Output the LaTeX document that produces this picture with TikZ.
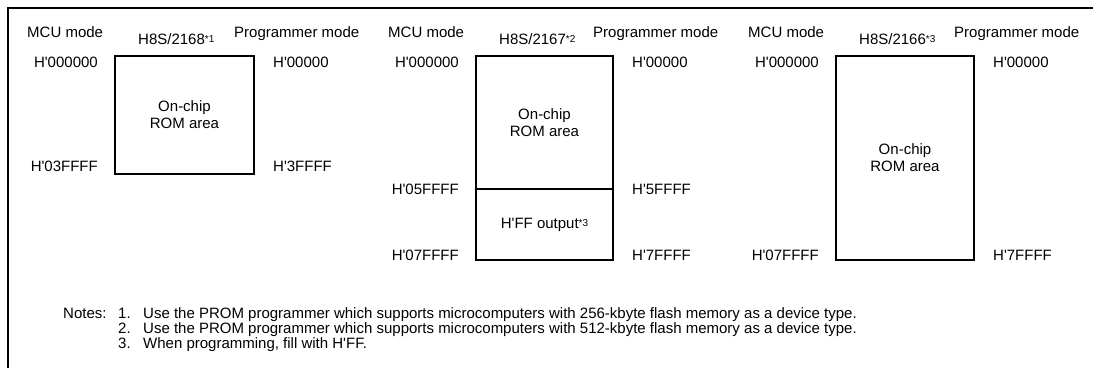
\documentclass[tikz,border=0pt]{standalone}
\usepackage{fontspec}
\setmainfont{Liberation Sans}[Ligatures=TeXOff]
\usetikzlibrary{positioning}

\newcommand{\notemark}[1]{\raisebox{2pt}{\fontsize{10}{10}\selectfont *#1}}

\begin{document}
\begin{tikzpicture}[x=1pt,y=-1pt,
  lbl/.style={font=\fontsize{15}{17}\selectfont,inner sep=0pt,text height=11pt,text depth=0pt},
  membox/.style={draw,line width=2pt,inner sep=0pt,outer sep=0pt,align=center,
    font=\fontsize{15}{17}\selectfont}]
  \useasboundingbox (0,0) rectangle (1093,368);

  % frame
  \draw[line width=2pt] (1093,8) -- (8,8) -- (8,368);

  % H8S/2168
  \node[membox,minimum width=139pt,minimum height=118pt] (romA) at (184.5,115) {On-chip\\ROM area};
  \node[lbl,anchor=west] (mcuA) at (27,32) {MCU mode};
  \node[lbl,anchor=west] (chipA) at (138,39) {H8S/2168\notemark{1}};
  \node[lbl,anchor=west] (progA) at (234,32) {Programmer mode};
  \node[lbl,anchor=east] (mtopA) at ([xshift=-17pt,yshift=-6pt]romA.north west) {H'000000};
  \node[lbl,anchor=east] (mendA) at ([xshift=-17pt,yshift=8pt]romA.south west) {H'03FFFF};
  \node[lbl,anchor=west] (ptopA) at ([xshift=19pt,yshift=-6pt]romA.north east) {H'00000};
  \node[lbl,anchor=west] (pendA) at ([xshift=19pt,yshift=8pt]romA.south east) {H'3FFFF};

  % H8S/2167
  \node[membox,minimum width=137pt,minimum height=133pt] (romB) at (544.5,122.5) {On-chip\\ROM area};
  \node[membox,minimum width=137pt,minimum height=71pt,below=0pt of romB] (ffB) {H'FF output\notemark{3}};
  \node[lbl,anchor=west] (mcuB) at (388,32) {MCU mode};
  \node[lbl,anchor=west] (chipB) at (499,39) {H8S/2167\notemark{2}};
  \node[lbl,anchor=west] (progB) at (593,32) {Programmer mode};
  \node[lbl,anchor=east] (mtopB) at ([xshift=-17pt,yshift=-6pt]romB.north west) {H'000000};
  \node[lbl,anchor=east] (mmidB) at ([xshift=-17pt]romB.south west) {H'05FFFF};
  \node[lbl,anchor=east] (mendB) at ([xshift=-17pt,yshift=5pt]ffB.south west) {H'07FFFF};
  \node[lbl,anchor=west] (ptopB) at ([xshift=19pt,yshift=-6pt]romB.north east) {H'00000};
  \node[lbl,anchor=west] (pmidB) at ([xshift=19pt]romB.south east) {H'5FFFF};
  \node[lbl,anchor=west] (pendB) at ([xshift=19pt,yshift=5pt]ffB.south east) {H'7FFFF};

  % H8S/2166
  \node[membox,minimum width=138pt,minimum height=204pt] (romC) at (905,158) {On-chip\\ROM area};
  \node[lbl,anchor=west] (mcuC) at (748,32) {MCU mode};
  \node[lbl,anchor=west] (chipC) at (859,39) {H8S/2166\notemark{3}};
  \node[lbl,anchor=west] (progC) at (954,32) {Programmer mode};
  \node[lbl,anchor=east] (mtopC) at ([xshift=-17pt,yshift=-6pt]romC.north west) {H'000000};
  \node[lbl,anchor=east] (mendC) at ([xshift=-17pt,yshift=5pt]romC.south west) {H'07FFFF};
  \node[lbl,anchor=west] (ptopC) at ([xshift=19pt,yshift=-6pt]romC.north east) {H'00000};
  \node[lbl,anchor=west] (pendC) at ([xshift=19pt,yshift=5pt]romC.south east) {H'7FFFF};

  % notes
  \node[lbl,anchor=west] (notes) at (63,313) {Notes:};
  \node[lbl,anchor=west] (numA) at (118,313) {1.};
  \node[lbl,anchor=west] (noteA) at (143,313) {Use the PROM programmer which supports microcomputers with 256-kbyte flash memory as a device type.};
  \node[lbl,anchor=west] (numB) at (118,328) {2.};
  \node[lbl,anchor=west] (noteB) at (143,328) {Use the PROM programmer which supports microcomputers with 512-kbyte flash memory as a device type.};
  \node[lbl,anchor=west] (numC) at (118,343) {3.};
  \node[lbl,anchor=west] (noteC) at (143,343) {When programming, fill with H'FF.};
\end{tikzpicture}
\end{document}
